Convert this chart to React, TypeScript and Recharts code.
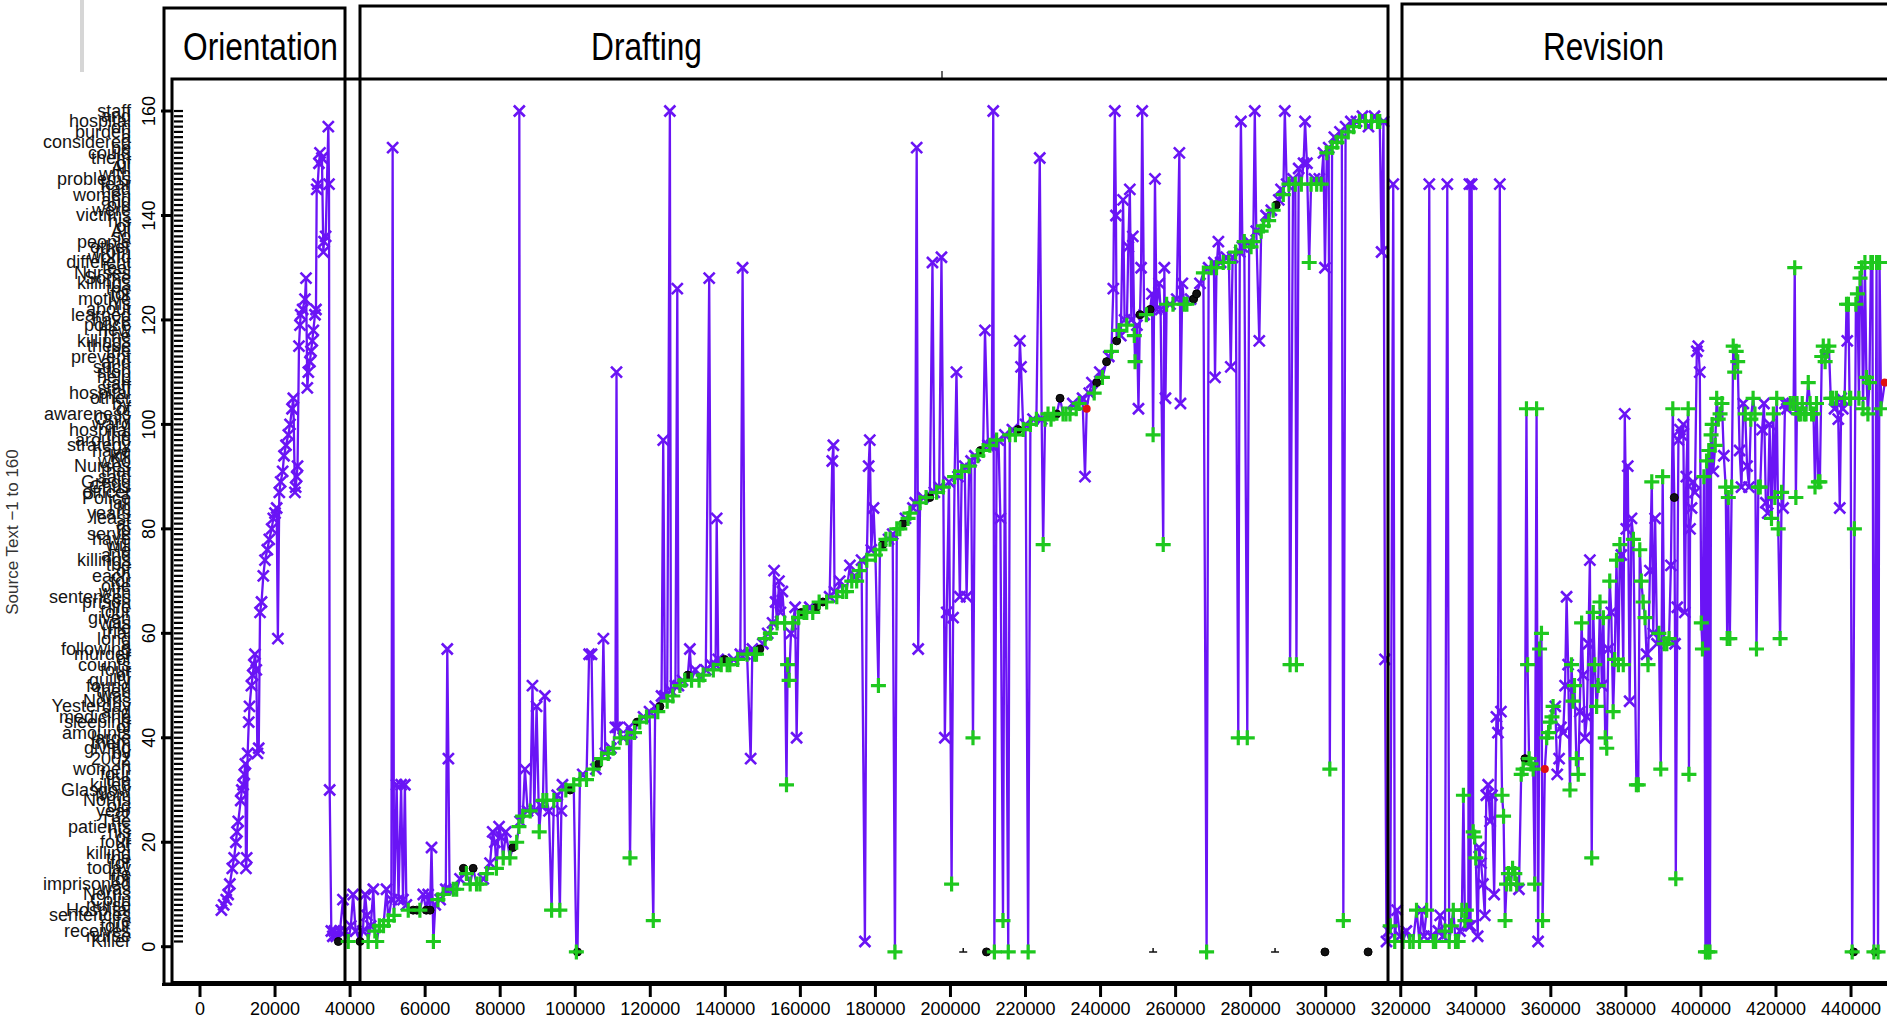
import React from "react";
import { ComposedChart, XAxis, YAxis, Line, Scatter } from "recharts";

type Ev = [number, number, string];

// source text words, index = position in source (0 unused)
const sourceWords = [
  "",
  "Killer", "nurse", "receives", "four", "life", "sentences", "Hospital", "nurse", "Colin", "Norris",
  "was", "imprisoned", "for", "life", "today", "for", "the", "killing", "of", "four",
  "of", "his", "patients", "The", "32", "year", "old", "Norris", "from", "Glasgow",
  "killed", "the", "four", "women", "in", "2002", "by", "giving", "them", "large",
  "amounts", "of", "sleeping", "medicine", "and", "Yesterday", "Norris", "was", "then", "found",
  "guilty", "of", "four", "counts", "of", "murder", "following", "a", "long", "trial",
  "He", "was", "given", "four", "life", "prison", "sentences", "with", "one", "for",
  "each", "of", "the", "killings", "and", "He", "will", "have", "serve", "to",
  "at", "least", "years", "in", "jail", "Police", "officer", "Chris", "Gregg", "said",
  "that", "Nurses", "who", "kill", "have", "strategy", "around", "the", "hospital", "ward",
  "Only", "awareness", "of", "by", "other", "hospital", "staff", "can", "help", "stop",
  "such", "and", "prevent", "the", "these", "killings", "The", "new", "police", "have",
  "learned", "about", "his", "motive", "for", "the", "killings", "Some", "Nurses", "feel",
  "different", "world", "from", "other", "people", "so", "All", "of", "his", "victims",
  "were", "old", "and", "women", "had", "fear", "problems", "with", "All", "of",
  "them", "could", "be", "considered", "a", "burden", "on", "hospital", "and", "staff",
];
const sourceNumbers = [0, 20, 40, 60, 80, 100, 120, 140, 160];
const timeTicks = [
  0, 20000, 40000, 60000, 80000, 100000, 120000, 140000, 160000, 180000, 200000, 220000,
  240000, 260000, 280000, 300000, 320000, 340000, 360000, 380000, 400000, 420000, 440000,
];
const phaseNames = ["Orientation", "Drafting", "Revision"];

// [time, source position, mark]  x = purple cross, + = green plus, o = black, r = red
const orientationEvents: Ev[] = [
  [5700, 7, "x"], [6300, 8, "x"], [7000, 9, "x"], [7500, 10, "x"], [7950, 12, "x"], [8600, 15, "x"],
  [9100, 17, "x"], [9560, 20, "x"], [9860, 22, "x"], [10200, 24, "x"], [10850, 28, "x"], [11150, 30, "x"],
  [11500, 31, "x"], [11800, 33, "x"], [12100, 35, "x"], [12250, 15, "x"], [12450, 17, "x"], [12700, 37, "x"],
  [13000, 43, "x"], [13200, 46, "x"], [13700, 50, "x"], [14050, 52, "x"], [14350, 54, "x"], [14650, 56, "x"],
  [15000, 53, "x"], [15300, 37, "x"], [15650, 38, "x"], [16000, 64, "x"], [16400, 66, "x"], [16870, 71, "x"],
  [17320, 74, "x"], [17940, 76, "x"], [18470, 78, "x"], [19100, 80, "x"], [19540, 82, "x"], [19990, 83, "x"],
  [20430, 84, "x"], [20750, 59, "x"], [21140, 87, "x"], [21500, 89, "x"], [22030, 91, "x"], [22390, 94, "x"],
  [22920, 96, "x"], [23540, 98, "x"], [24000, 100, "x"], [24520, 103, "x"], [24870, 105, "x"], [25300, 87, "x"],
  [25500, 88, "x"], [25760, 90, "x"], [26000, 92, "x"], [26380, 115, "x"], [26650, 119, "x"], [26830, 121, "x"],
  [27360, 122, "x"], [27980, 124, "x"], [28250, 128, "x"], [28600, 107, "x"], [28870, 110, "x"], [29300, 112, "x"],
  [29580, 114, "x"], [29930, 116, "x"], [30200, 118, "x"], [30650, 121, "x"], [30910, 122, "x"], [31100, 145, "x"],
  [31360, 146, "x"], [31700, 150, "x"], [31980, 152, "x"], [32500, 151, "x"], [32870, 133, "x"], [33050, 135, "x"],
  [33490, 136, "x"], [34200, 157, "x"], [34380, 146, "x"], [34560, 30, "x"], [35000, 3, "x"], [35400, 2, "x"],
  [35800, 3, "x"], [36300, 2, "x"], [36870, 1, "o"], [37300, 3, "x"],
];

const draftingEvents: Ev[] = [
  [38100, 9, "x"], [38700, 3, "x"], [39500, 1, "+"], [40200, 4, "x"], [40800, 10, "x"], [41500, 3, "x"],
  [42640, 1, "o"], [43400, 3, "x"], [44000, 10, "x"], [44500, 6, "x"], [44800, 1, "+"], [45500, 4, "x"],
  [46200, 11, "x"], [46600, 3, "+"], [47100, 1, "+"], [47800, 4, "+"], [48900, 4, "+"], [49700, 11, "x"],
  [50200, 5, "+"], [51000, 9, "x"], [51340, 153, "x"], [51700, 6, "+"], [52400, 31, "x"], [52900, 9, "x"],
  [53600, 31, "x"], [54100, 9, "x"], [54600, 31, "x"], [55000, 8, "x"], [55500, 7, "+"], [56800, 7, "o"],
  [57800, 7, "o"], [58600, 7, "+"], [59500, 10, "x"], [60300, 7, "o"], [60800, 10, "x"], [61300, 7, "o"],
  [61700, 19, "x"], [62200, 1, "+"], [62700, 8, "x"], [63400, 9, "+"], [64000, 9, "x"], [64800, 10, "+"],
  [65500, 11, "x"], [65900, 57, "x"], [66200, 36, "x"], [66500, 11, "x"], [67500, 11, "+"], [68400, 11, "+"],
  [69300, 13, "x"], [70200, 15, "o"], [71000, 14, "+"], [72000, 12, "+"], [72800, 15, "o"], [73700, 12, "+"],
  [74600, 12, "+"], [75500, 13, "x"], [76400, 14, "+"], [77300, 16, "x"], [78000, 22, "x"], [78600, 20, "x"],
  [79000, 15, "+"], [79700, 23, "x"], [80300, 21, "x"], [80800, 17, "+"], [81500, 22, "x"], [82600, 17, "+"],
  [83400, 19, "o"], [84400, 20, "+"], [85000, 23, "+"], [85100, 160, "x"], [85300, 24, "x"], [86000, 25, "+"],
  [86600, 34, "x"], [87300, 26, "x"], [88000, 26, "+"], [88600, 50, "x"], [89100, 26, "x"], [89700, 46, "x"],
  [90400, 22, "+"], [90900, 27, "x"], [91400, 28, "+"], [91900, 48, "x"], [92400, 28, "+"], [93000, 26, "x"],
  [93700, 7, "+"], [94300, 28, "+"], [95200, 29, "x"], [95900, 7, "+"], [96300, 26, "x"], [96600, 31, "x"],
  [97500, 30, "+"], [98600, 30, "o"], [99600, 31, "+"], [100300, -1, "+"], [100600, -1, "o"], [101250, 32, "+"],
  [102000, 33, "x"], [103000, 32, "+"], [103700, 56, "x"], [104350, 56, "x"], [104800, 34, "+"], [105500, 34, "x"],
  [106200, 35, "o"], [107000, 36, "+"], [107500, 59, "x"], [108000, 37, "x"], [108800, 37, "+"], [109500, 38, "x"],
  [110100, 38, "+"], [110700, 42, "x"], [111000, 110, "x"], [111300, 42, "x"], [112000, 40, "+"], [112800, 40, "x"],
  [113800, 40, "+"], [114300, 42, "x"], [114600, 17, "+"], [115000, 41, "x"], [115800, 41, "+"], [116500, 43, "o"],
  [117200, 43, "+"], [118200, 44, "x"], [119000, 44, "+"], [119800, 45, "x"], [120800, 5, "+"], [121300, 46, "x"],
  [122000, 45, "+"], [122560, 46, "o"], [123000, 48, "x"], [123450, 97, "x"], [123900, 48, "x"], [124500, 47, "+"],
  [125220, 160, "x"], [125500, 49, "x"], [126000, 48, "+"], [126700, 50, "x"], [127200, 126, "x"], [127500, 50, "x"],
  [127900, 50, "+"], [128600, 51, "x"], [129200, 51, "+"], [130000, 52, "o"], [130550, 57, "x"], [131000, 51, "+"],
  [132000, 53, "x"], [133000, 51, "+"], [134100, 52, "+"], [134800, 53, "x"], [135700, 128, "x"], [136200, 54, "x"],
  [136800, 53, "+"], [137400, 54, "x"], [137700, 82, "x"], [138100, 55, "x"], [138900, 54, "+"], [139800, 55, "o"],
  [140500, 54, "+"], [141200, 54, "+"], [142200, 55, "x"], [143300, 55, "+"], [144000, 56, "x"], [144600, 130, "x"],
  [145200, 56, "x"], [145800, 56, "+"], [146750, 36, "x"], [147200, 57, "x"], [147800, 56, "+"], [148300, 56, "+"],
  [149200, 57, "o"], [150000, 58, "x"], [150600, 59, "+"], [151300, 60, "x"], [152000, 60, "+"], [152600, 62, "x"],
  [153000, 72, "x"], [153400, 66, "x"], [153800, 62, "+"], [154300, 70, "x"], [154700, 64, "x"], [155200, 68, "x"],
  [155800, 62, "+"], [156300, 31, "+"], [156600, 54, "+"], [157000, 51, "+"], [157500, 60, "x"], [158000, 62, "+"],
  [158600, 65, "x"], [159000, 40, "x"], [159500, 63, "+"], [160300, 64, "o"], [161000, 64, "+"], [161700, 64, "+"],
  [162500, 65, "x"], [163300, 64, "+"], [164300, 65, "o"], [165000, 66, "+"], [166000, 66, "o"], [167000, 66, "+"],
  [167800, 67, "x"], [168500, 93, "x"], [168800, 96, "x"], [169100, 68, "x"], [169700, 67, "+"], [170500, 70, "x"],
  [171300, 68, "+"], [172300, 68, "+"], [173200, 73, "x"], [173700, 70, "+"], [174500, 71, "x"], [175000, 70, "+"],
  [175700, 72, "+"], [176300, 74, "x"], [177200, 1, "x"], [177700, 74, "+"], [178200, 92, "x"], [178500, 97, "x"],
  [178900, 76, "x"], [179500, 84, "x"], [180000, 75, "+"], [180800, 50, "+"], [181200, 76, "+"], [182000, 77, "o"],
  [182800, 78, "+"], [183500, 78, "x"], [183900, 78, "+"], [184600, 79, "x"], [185200, -1, "+"], [185700, 80, "+"],
  [186500, 80, "+"], [187300, 81, "o"], [188000, 82, "x"], [188700, 82, "+"], [189200, 83, "+"], [190000, 84, "x"],
  [190600, 85, "x"], [191000, 153, "x"], [191400, 57, "x"], [191900, 85, "+"], [192700, 86, "x"], [193500, 86, "+"],
  [194500, 86, "o"], [195200, 131, "x"], [195700, 87, "x"], [196300, 87, "+"], [197000, 88, "x"], [197600, 132, "x"],
  [198100, 88, "+"], [198500, 40, "x"], [199000, 64, "x"], [199600, 89, "x"], [200300, 12, "+"], [200700, 63, "x"],
  [201100, 90, "+"], [201600, 110, "x"], [202000, 90, "x"], [202500, 67, "x"], [203000, 91, "+"], [203800, 92, "x"],
  [204300, 67, "x"], [205000, 92, "+"], [205500, 93, "x"], [206000, 40, "+"], [206500, 94, "x"], [207300, 94, "+"],
  [208000, 95, "o"], [208700, 95, "+"], [209200, 118, "x"], [210000, 96, "x"], [210500, 96, "+"], [211000, 96, "x"],
  [211400, 160, "x"], [211700, -1, "+"], [212300, 97, "+"], [212800, 97, "x"], [213300, 82, "x"], [214000, 5, "+"],
  [214500, 98, "x"], [215400, -1, "+"], [215800, 98, "+"], [216500, 99, "x"], [217300, 98, "+"], [218000, 99, "o"],
  [218500, 116, "x"], [218800, 111, "x"], [219400, 99, "+"], [220000, 100, "x"], [220700, -1, "+"], [221300, 100, "+"],
  [222000, 101, "x"], [222900, 101, "+"], [223800, 151, "x"], [224300, 101, "x"], [224700, 77, "+"], [225200, 101, "+"],
  [226000, 102, "+"], [226800, 101, "+"], [227500, 102, "+"], [228300, 102, "o"], [229200, 105, "o"], [230000, 102, "+"],
  [230800, 102, "+"], [231850, 102, "+"], [232600, 104, "x"], [233500, 103, "+"], [234300, 104, "+"], [235200, 105, "x"],
  [235850, 90, "x"], [236300, 103, "r"], [237000, 106, "x"], [237700, 108, "x"], [238300, 106, "+"], [239000, 108, "o"],
  [239800, 110, "x"], [240500, 109, "+"], [241600, 112, "o"], [242200, 113, "x"], [242900, 114, "+"], [243400, 126, "x"],
  [243800, 160, "x"], [244100, 140, "x"], [244300, 116, "o"], [244900, 118, "+"], [245400, 117, "x"], [246000, 143, "x"],
  [246400, 120, "x"], [247000, 119, "+"], [247400, 134, "x"], [247800, 145, "x"], [248200, 120, "x"], [248600, 136, "x"],
  [249000, 117, "+"], [249200, 112, "+"], [249700, 119, "x"], [250100, 103, "x"], [250500, 121, "o"], [250800, 130, "x"],
  [251100, 160, "x"], [251600, 121, "x"], [252200, 121, "+"], [253200, 122, "o"], [253700, 125, "x"], [254000, 98, "+"],
  [254500, 147, "x"], [254900, 122, "x"], [255600, 127, "x"], [256000, 122, "x"], [256700, 77, "+"], [257000, 130, "x"],
  [257300, 105, "x"], [257600, 123, "+"], [258500, 123, "x"], [259300, 123, "+"], [260300, 124, "x"], [261000, 152, "x"],
  [261300, 104, "x"], [261800, 127, "x"], [262300, 123, "+"], [263000, 123, "+"], [264000, 124, "x"], [264800, 124, "o"],
  [265600, 125, "o"], [266500, 127, "x"], [267400, 129, "+"], [268260, -1, "+"], [268800, 130, "x"], [269500, 130, "+"],
  [270200, 131, "x"], [270500, 109, "x"], [270900, 130, "+"], [271400, 135, "x"], [272000, 131, "x"], [272700, 131, "+"],
  [273500, 132, "x"], [274200, 131, "+"], [274700, 111, "x"], [275200, 132, "x"], [276000, 133, "+"], [276700, 40, "+"],
  [277100, 133, "x"], [277400, 158, "x"], [277800, 134, "x"], [278300, 135, "+"], [279100, 40, "+"], [279600, 135, "x"],
  [280100, 134, "+"], [280700, 135, "+"], [281100, 160, "x"], [281500, 137, "x"], [282300, 116, "x"], [282800, 137, "+"],
  [283400, 138, "+"], [284100, 140, "x"], [284800, 139, "+"], [285500, 141, "x"], [286000, 141, "+"], [286800, 142, "o"],
  [287500, 143, "x"], [288100, 145, "x"], [288700, 144, "+"], [289100, 160, "x"], [289600, 146, "x"], [290200, 146, "+"],
  [290500, 54, "+"], [291300, 147, "x"], [291900, 146, "+"], [292200, 54, "+"], [292800, 149, "x"], [293500, 146, "+"],
  [294100, 150, "x"], [294500, 158, "x"], [295000, 150, "x"], [295600, 131, "+"], [296100, 146, "+"], [297000, 147, "x"],
  [297600, 146, "+"], [298300, 147, "x"], [298800, 146, "+"], [299400, 152, "x"], [299800, 130, "x"], [300300, 152, "+"],
  [300800, 153, "x"], [301100, 34, "+"], [301700, 153, "+"], [302300, 155, "x"], [303000, 154, "+"], [303800, 156, "x"],
  [304300, 155, "+"], [304700, 5, "+"], [305300, 157, "x"], [306000, 156, "+"], [306700, 158, "x"], [307400, 157, "+"],
  [308200, 158, "x"], [309000, 158, "+"], [309800, 159, "x"], [310600, 158, "+"], [311400, 157, "x"], [312200, 158, "+"],
  [313000, 159, "x"], [313800, 158, "+"], [314400, 158, "+"], [314900, 133, "x"], [315400, 158, "x"], [315800, 55, "x"],
  [316200, 1, "x"],
];

const revisionEvents: Ev[] = [
  [316800, 3, "x"], [317200, 4, "+"], [318000, 146, "x"], [318400, 1, "+"], [319000, 7, "x"], [319800, 2, "x"],
  [320600, 1, "+"], [321500, 3, "x"], [322400, 1, "+"], [323300, 1, "+"], [324200, 7, "+"], [325000, 1, "+"],
  [325600, 7, "x"], [326200, 2, "x"], [326900, 7, "+"], [327600, 146, "x"], [328100, 2, "x"], [328700, 1, "+"],
  [329300, 1, "+"], [330000, 3, "x"], [330500, 6, "x"], [331200, 2, "x"], [331800, 3, "+"], [332400, 146, "x"],
  [332900, 1, "+"], [333500, 4, "+"], [334000, 7, "+"], [334600, 1, "+"], [335300, 1, "+"], [335800, 3, "x"],
  [336300, 7, "+"], [336700, 29, "+"], [337100, 5, "+"], [337500, 7, "+"], [338000, 4, "x"], [338300, 146, "x"],
  [338600, 4, "x"], [338900, 146, "x"], [339300, 22, "+"], [339700, 21, "+"], [340000, 17, "+"], [340500, 2, "x"],
  [340900, 19, "x"], [341400, 16, "x"], [341900, 12, "x"], [342400, 6, "x"], [342800, 29, "x"], [343300, 31, "x"],
  [343800, 24, "x"], [344300, 29, "x"], [344900, 10, "x"], [345500, 44, "x"], [345900, 41, "x"], [346400, 146, "x"],
  [346700, 45, "x"], [347000, 29, "+"], [347400, 25, "+"], [347800, 5, "+"], [348200, 12, "+"], [348700, 14, "+"],
  [349300, 12, "+"], [349800, 15, "+"], [350400, 14, "+"], [350900, 12, "+"], [351500, 11, "x"], [352100, 33, "+"],
  [352600, 34, "+"], [353100, 36, "o"], [353500, 103, "+"], [353800, 54, "+"], [354200, 36, "+"], [354700, 35, "+"],
  [355300, 34, "+"], [355700, 12, "+"], [356200, 103, "+"], [356600, 1, "x"], [357000, 57, "+"], [357500, 60, "+"],
  [357800, 5, "+"], [358400, 34, "r"], [358900, 40, "+"], [359400, 41, "+"], [359800, 43, "+"], [360300, 44, "+"],
  [360600, 46, "+"], [361200, 46, "x"], [361700, 33, "x"], [362200, 36, "x"], [362700, 42, "x"], [363300, 41, "x"],
  [363800, 50, "x"], [364200, 67, "x"], [364600, 54, "x"], [365100, 30, "+"], [365500, 54, "+"], [365900, 47, "+"],
  [366300, 50, "+"], [366800, 36, "+"], [367300, 33, "+"], [367700, 45, "x"], [368200, 62, "+"], [368600, 52, "x"],
  [369100, 40, "x"], [369600, 44, "x"], [370000, 58, "x"], [370400, 74, "x"], [370900, 17, "+"], [371300, 64, "+"],
  [371700, 54, "+"], [372200, 46, "+"], [372600, 50, "+"], [373100, 66, "+"], [373600, 50, "x"], [374000, 63, "+"],
  [374500, 40, "+"], [374900, 38, "+"], [375300, 57, "x"], [375700, 70, "+"], [376100, 64, "x"], [376600, 45, "+"],
  [377000, 55, "+"], [377500, 74, "+"], [378000, 54, "+"], [378400, 77, "+"], [378800, 75, "x"], [379300, 54, "+"],
  [379700, 102, "x"], [380100, 80, "x"], [380500, 92, "x"], [381000, 47, "x"], [381500, 82, "x"], [382000, 78, "+"],
  [382800, 31, "+"], [383300, 31, "+"], [383700, 76, "+"], [384100, 70, "+"], [384600, 66, "+"], [385100, 63, "+"],
  [385500, 56, "x"], [385900, 54, "+"], [386400, 72, "x"], [386900, 89, "+"], [387300, 60, "x"], [387800, 82, "x"],
  [388300, 58, "x"], [388800, 60, "+"], [389300, 34, "+"], [389800, 90, "+"], [390200, 58, "+"], [390900, 58, "+"],
  [391500, 59, "+"], [392000, 73, "x"], [392500, 103, "+"], [392900, 86, "o"], [393100, 58, "x"], [393300, 13, "+"],
  [393700, 65, "x"], [394000, 97, "x"], [394400, 99, "x"], [394800, 98, "x"], [395300, 100, "x"], [395700, 64, "x"],
  [396100, 90, "x"], [396600, 103, "+"], [396800, 33, "+"], [397100, 80, "x"], [397500, 84, "x"], [397900, 89, "x"],
  [398400, 87, "x"], [398900, 114, "x"], [399300, 115, "x"], [399700, 110, "x"], [400100, 62, "+"], [400400, 57, "+"],
  [400800, 90, "+"], [401200, -1, "+"], [401500, 93, "+"], [401800, -1, "+"], [402100, 95, "+"], [402400, -1, "+"],
  [402700, 98, "+"], [403000, 100, "+"], [403300, 91, "x"], [403800, 96, "+"], [404200, 105, "+"], [404600, 101, "+"],
  [405100, 102, "+"], [405600, 104, "+"], [406100, 94, "x"], [406600, 88, "+"], [407000, 59, "+"], [407300, 86, "+"],
  [407700, 59, "+"], [408200, 88, "+"], [408600, 115, "+"], [409000, 110, "+"], [409400, 114, "+"], [409800, 112, "+"],
  [410300, 95, "x"], [410800, 88, "x"], [411300, 104, "x"], [411800, 102, "+"], [412300, 92, "x"], [412800, 88, "x"],
  [413300, 101, "+"], [413900, 105, "+"], [414400, 102, "+"], [414800, 57, "+"], [415300, 88, "+"], [415800, 88, "+"],
  [416300, 99, "x"], [416800, 104, "x"], [417300, 85, "x"], [417800, 83, "x"], [418300, 100, "x"], [418800, 82, "+"],
  [419300, 102, "+"], [419700, 86, "+"], [420200, 105, "+"], [420600, 80, "+"], [421100, 59, "+"], [421500, 87, "+"],
  [421900, 84, "x"], [422400, 104, "x"], [422900, 103, "x"], [423300, 104, "x"], [423800, 104, "+"], [424300, 104, "x"],
  [424700, 104, "+"], [425000, 130, "+"], [425300, 86, "+"], [425600, 104, "+"], [426100, 102, "+"], [426500, 102, "+"],
  [427000, 104, "+"], [427500, 102, "+"], [428000, 102, "+"], [428600, 108, "+"], [429100, 104, "+"], [429500, 102, "+"],
  [430000, 102, "+"], [430400, 88, "+"], [430800, 104, "+"], [431300, 89, "+"], [431700, 89, "+"], [432200, 113, "+"],
  [432600, 115, "+"], [433100, 112, "+"], [433600, 114, "+"], [434100, 115, "+"], [434600, 105, "+"], [435100, 105, "+"],
  [435600, 103, "x"], [436100, 105, "+"], [436600, 101, "x"], [437000, 84, "x"], [437400, 105, "x"], [437800, 103, "x"],
  [438300, 105, "+"], [438800, 123, "+"], [439000, 116, "x"], [439300, 123, "+"], [439600, 105, "+"], [439900, 105, "+"],
  [440300, -1, "+"], [440900, 80, "+"], [441300, 123, "+"], [441700, 125, "+"], [442100, 105, "+"], [442400, 128, "+"],
  [442800, 130, "+"], [443200, 103, "+"], [443700, 131, "+"], [444100, 109, "+"], [444500, 102, "+"], [444900, 108, "+"],
  [445300, 131, "+"], [445700, 131, "+"], [446100, -1, "+"], [446800, 131, "+"], [447200, -1, "+"], [447600, 131, "+"],
  [448000, 103, "+"], [449000, 108, "r"],
];

// marks not joined by the line
const strayMarks: Ev[] = [
  [203400, -1, "d"], [209600, -1, "o"], [254000, -1, "d"], [286500, -1, "d"], [299800, -1, "o"],
  [311300, -1, "o"], [440700, -1, "o"], [446500, -1, "o"],
];

const PURPLE = "#6a14f5";
const GREEN = "#1ec81e";
const FONT = "'Liberation Sans', Arial, sans-serif";

const toObj = ([t, y, m]: Ev) => ({ t, y, m });
const events = [...orientationEvents, ...draftingEvents, ...revisionEvents].map(toObj);
const stray = strayMarks.map(toObj);
const pick = (m: string) => events.filter((e) => e.m === m);
const sourceTicks = sourceWords.map((_, i) => i);

const Cross = (p: any) => {
  const { cx, cy } = p;
  const s = 5.5;
  return (
    <path
      d={`M${cx - s},${cy - s}L${cx + s},${cy + s}M${cx - s},${cy + s}L${cx + s},${cy - s}`}
      stroke={PURPLE}
      strokeWidth={2.6}
      fill="none"
    />
  );
};
const Plus = (p: any) => {
  const { cx, cy } = p;
  const s = 7.5;
  return (
    <path d={`M${cx - s},${cy}H${cx + s}M${cx},${cy - s}V${cy + s}`} stroke={GREEN} strokeWidth={3.2} fill="none" />
  );
};
const BlackDot = (p: any) => <circle cx={p.cx} cy={p.cy} r={4} fill="#111" stroke="#000" strokeWidth={1} />;
const RedDot = (p: any) => <circle cx={p.cx} cy={p.cy} r={4} fill="#e01010" />;
const Dash = (p: any) => (
  <path d={`M${p.cx - 4},${p.cy}H${p.cx + 4}M${p.cx},${p.cy}V${p.cy - 4}`} stroke="#111" strokeWidth={1.5} />
);
const StrayShape = (p: any) => (p.payload && p.payload.m === "d" ? <Dash {...p} /> : <BlackDot {...p} />);

const SourceTick = (props: any) => {
  const { y, payload } = props;
  const v = payload.value;
  const word = sourceWords[v];
  return (
    <g>
      {v >= 1 && <line x1={174} x2={183} y1={y} y2={y} stroke="#000" strokeWidth={2.2} />}
      {word && (
        <text x={131} y={y} textAnchor="end" dominantBaseline="central" fontSize={18} fill="#141414" fontFamily={FONT}>
          {word}
        </text>
      )}
      {sourceNumbers.includes(v) && (
        <g>
          <line x1={161} x2={172} y1={y} y2={y} stroke="#000" strokeWidth={3} />
          <text
            x={155.5}
            y={y}
            transform={`rotate(-90 155.5 ${y})`}
            textAnchor="middle"
            fontSize={18}
            fill="#000"
            fontFamily={FONT}
          >
            {v}
          </text>
        </g>
      )}
    </g>
  );
};

const TimeTick = (props: any) => {
  const { x, payload } = props;
  return (
    <g>
      <line x1={x} x2={x} y1={985} y2={997} stroke="#000" strokeWidth={3} />
      <text x={x} y={1015} textAnchor="middle" fontSize={18} fill="#000" fontFamily={FONT}>
        {payload.value}
      </text>
    </g>
  );
};

const titleSpots = [
  { x: 183, len: 155 },
  { x: 591, len: 111 },
  { x: 1543, len: 121 },
];

export default function App() {
  return (
    <div style={{ position: "relative", width: 1887, height: 1019, background: "#fff", fontFamily: FONT }}>
      <style>{`body{margin:0;}`}</style>
      <ComposedChart
        width={1887}
        height={1019}
        data={events}
        margin={{ top: 79, right: 0, bottom: 0, left: 0 }}
      >
        <XAxis
          type="number"
          dataKey="t"
          domain={[-7462, 449586]}
          ticks={timeTicks}
          interval={0}
          height={35}
          axisLine={false}
          tickLine={false}
          tick={TimeTick}
        />
        <YAxis
          type="number"
          dataKey="y"
          domain={[-7.14, 166.13]}
          ticks={sourceTicks}
          interval={0}
          width={172}
          axisLine={false}
          tickLine={false}
          tick={SourceTick}
        />
        <Line
          type="linear"
          dataKey="y"
          stroke={PURPLE}
          strokeWidth={2.3}
          dot={false}
          activeDot={false}
          isAnimationActive={false}
        />
        <Scatter data={pick("x")} shape={Cross} isAnimationActive={false} />
        <Scatter data={pick("o")} shape={BlackDot} isAnimationActive={false} />
        <Scatter data={stray} shape={StrayShape} isAnimationActive={false} />
        <Scatter data={pick("+")} shape={Plus} isAnimationActive={false} />
        <Scatter data={pick("r")} shape={RedDot} isAnimationActive={false} />
      </ComposedChart>
      <svg
        width={1887}
        height={1019}
        style={{ position: "absolute", left: 0, top: 0, pointerEvents: "none" }}
      >
        <line x1={82} y1={0} x2={82} y2={72} stroke="#d6d6d6" strokeWidth={4} />
        <path d="M1890,79 H172 V982.5 H1890" fill="none" stroke="#000" strokeWidth={3} />
        <line x1={162} y1={984.5} x2={1890} y2={984.5} stroke="#000" strokeWidth={3} />
        <line x1={942} y1={71} x2={942} y2={79} stroke="#000" strokeWidth={1.2} />
        <rect x={164} y={8} width={181} height={976} fill="none" stroke="#000" strokeWidth={3} />
        <rect x={360} y={6} width={1028} height={978} fill="none" stroke="#000" strokeWidth={3} />
        <path d="M1900,4 H1402 V984" fill="none" stroke="#000" strokeWidth={3} />
        {phaseNames.map((name, i) => (
          <text
            key={name}
            x={titleSpots[i].x}
            y={60}
            fontSize={38}
            textLength={titleSpots[i].len}
            lengthAdjust="spacingAndGlyphs"
            fill="#000"
            fontFamily={FONT}
          >
            {name}
          </text>
        ))}
        <text
          x={17.5}
          y={532}
          transform="rotate(-90 17.5 532)"
          textAnchor="middle"
          fontSize={17}
          fill="#333"
          fontFamily={FONT}
        >
          Source Text −1 to 160
        </text>
      </svg>
    </div>
  );
}
